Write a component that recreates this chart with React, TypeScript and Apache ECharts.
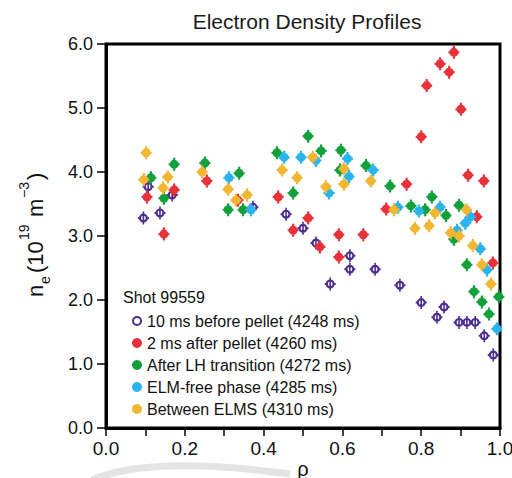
import React, { useEffect, useRef } from "react";
import * as echarts from "echarts";

const seriesNames = [
  "10 ms before pellet (4248 ms)",
  "2 ms after pellet (4260 ms)",
  "After LH transition (4272 ms)",
  "ELM-free phase (4285 ms)",
  "Between ELMS (4310 ms)",
];

const beforePellet: [number, number][] = [
  [0.095, 3.28], [0.137, 3.36], [0.107, 3.77], [0.168, 3.64], [0.373, 3.45],
  [0.457, 3.34], [0.5, 3.12], [0.533, 2.89], [0.619, 2.69], [0.619, 2.48],
  [0.569, 2.25], [0.683, 2.48], [0.746, 2.23], [0.8, 1.96], [0.858, 1.89],
  [0.84, 1.73], [0.896, 1.65], [0.916, 1.65], [0.937, 1.65], [0.96, 1.44],
  [0.983, 1.14],
];

const afterPellet: [number, number][] = [
  [0.104, 3.61], [0.147, 3.03], [0.173, 3.72], [0.256, 3.86], [0.335, 3.56],
  [0.437, 3.61], [0.475, 3.09], [0.513, 3.28], [0.543, 2.83], [0.591, 3.02],
  [0.591, 2.67], [0.653, 3.02], [0.711, 3.42], [0.763, 3.81], [0.8, 4.55],
  [0.814, 5.35], [0.848, 5.69], [0.871, 5.56], [0.883, 5.87], [0.901, 4.98],
  [0.919, 3.95], [0.959, 3.86], [0.941, 3.3], [0.982, 2.58],
];

const afterLH: [number, number][] = [
  [0.114, 3.91], [0.173, 4.12], [0.147, 3.59], [0.251, 4.14], [0.338, 3.98],
  [0.31, 3.41], [0.348, 3.41], [0.434, 4.3], [0.475, 3.67], [0.513, 4.56],
  [0.546, 4.33], [0.596, 4.34], [0.594, 4.03], [0.66, 4.1], [0.721, 3.78],
  [0.774, 3.47], [0.81, 3.41], [0.827, 3.61], [0.863, 3.32], [0.896, 3.48],
  [0.883, 2.95], [0.916, 2.55], [0.934, 2.13], [0.954, 1.97], [0.972, 1.78],
  [0.997, 2.05],
];

const elmFree: [number, number][] = [
  [0.312, 3.91], [0.368, 3.41], [0.452, 4.23], [0.495, 4.23], [0.533, 4.18],
  [0.566, 3.67], [0.613, 4.21], [0.617, 3.93], [0.678, 4.03], [0.741, 3.45],
  [0.794, 3.39], [0.848, 3.45], [0.891, 3.09], [0.912, 3.2], [0.925, 3.3],
  [0.95, 2.8], [0.967, 2.47], [0.992, 1.55],
];

const betweenELMs: [number, number][] = [
  [0.102, 4.3], [0.096, 3.88], [0.145, 3.75], [0.157, 3.92], [0.244, 4.0],
  [0.31, 3.73], [0.33, 3.56], [0.358, 3.64], [0.447, 4.03], [0.485, 3.91],
  [0.525, 4.23], [0.558, 3.77], [0.604, 4.05], [0.604, 3.81], [0.672, 3.86],
  [0.731, 3.41], [0.784, 3.12], [0.82, 3.16], [0.835, 3.36], [0.915, 3.41],
  [0.875, 3.05], [0.896, 3.0], [0.931, 2.85], [0.954, 2.55], [0.977, 2.25],
];

const colors = ["#4a2d8f", "#e8323a", "#12a03c", "#2ab4ee", "#f2b630"];

const FONT = "'Liberation Sans', Arial, Helvetica, sans-serif";

const filledSymbol =
  "path://M4.5,0A4.5,4.5 0 1,1 -4.5,0A4.5,4.5 0 1,1 4.5,0Z M-1.1,-6.5H1.1V6.5H-1.1Z M-5.5,-1.1H5.5V1.1H-5.5Z";
const openSymbol =
  "path://M4.5,0A4.5,4.5 0 1,1 -4.5,0A4.5,4.5 0 1,1 4.5,0Z M2.4,0A2.4,2.4 0 1,0 -2.4,0A2.4,2.4 0 1,0 2.4,0Z M-0.8,-6.5H0.8V6.5H-0.8Z M-5.5,-1H-3.5V1H-5.5Z M3.5,-1H5.5V1H3.5Z";
const ringIcon =
  "path://M4,0A4,4 0 1,1 -4,0A4,4 0 1,1 4,0Z M2.4,0A2.4,2.4 0 1,0 -2.4,0A2.4,2.4 0 1,0 2.4,0Z";

export default function App() {
  const ref = useRef<HTMLDivElement>(null);
  useEffect(() => {
    if (!ref.current) return;
    const chart = echarts.init(ref.current, undefined, { renderer: "svg" });
    const datasets = [beforePellet, afterPellet, afterLH, elmFree, betweenELMs];
    const txt = (text: string, lx: number, ly: number, fs: number) => ({
      type: "text",
      x: lx,
      y: ly,
      style: {
        text,
        fontSize: fs,
        fontFamily: FONT,
        fill: "#111",
        align: "left",
        verticalAlign: "middle",
        textAlign: "left",
        textVerticalAlign: "middle",
      },
    });
    chart.setOption({
      animation: false,
      title: {
        text: "Electron Density Profiles",
        left: 302,
        top: 6,
        textAlign: "center",
        textStyle: { fontSize: 21, fontWeight: "normal", color: "#1a1a1a", fontFamily: FONT },
      },
      grid: {
        left: 106,
        right: 12,
        top: 44,
        bottom: 50,
        show: true,
        borderColor: "#000",
        borderWidth: 3,
        containLabel: false,
        outerBoundsMode: "none",
      },
      legend: {
        orient: "vertical",
        left: 127,
        top: 308,
        itemWidth: 10,
        itemHeight: 10,
        itemGap: 6,
        textStyle: { fontSize: 16, color: "#111", lineHeight: 16, fontFamily: FONT },
        data: seriesNames.map((n, i) => ({ name: n, icon: i === 0 ? ringIcon : "circle" })),
      },
      xAxis: {
        type: "value",
        min: 0,
        max: 1,
        interval: 0.1,
        name: "ρ",
        nameLocation: "middle",
        nameGap: 31,
        nameMoveOverlap: false,
        nameTextStyle: { fontSize: 20, color: "#111", fontFamily: FONT },
        axisLine: { show: true, lineStyle: { color: "#000", width: 3 } },
        axisTick: { show: true, length: 8, lineStyle: { color: "#000", width: 1.5 } },
        axisLabel: {
          fontSize: 19,
          color: "#111",
          margin: 11,
          fontFamily: FONT,
          formatter: (v: number) => (Math.round(v * 10) % 2 === 0 ? v.toFixed(1) : ""),
        },
        splitLine: { show: false },
      },
      yAxis: {
        type: "value",
        min: 0,
        max: 6,
        interval: 1,
        axisLine: { show: true, lineStyle: { color: "#000", width: 3 } },
        axisTick: { show: true, length: 9, lineStyle: { color: "#000", width: 1.5 } },
        axisLabel: {
          fontSize: 18,
          color: "#111",
          margin: 13,
          fontFamily: FONT,
          formatter: (v: number) => v.toFixed(1),
        },
        splitLine: { show: false },
      },
      graphic: [
        {
          type: "text",
          left: 123,
          top: 289,
          style: { text: "Shot 99559", fontSize: 16, fontFamily: FONT, fill: "#111" },
        },
        {
          type: "group",
          x: 35,
          y: 297,
          rotation: Math.PI / 2,
          children: [
            txt("n", 0, 0, 22),
            txt("e", 13, 10, 14),
            txt("(10", 24, 0, 22),
            txt("19", 57, -11, 14),
            txt("m", 80, 0, 22),
            txt("−3", 99, -11, 14),
            txt(")", 117, 0, 22),
          ],
        },
        {
          type: "bezierCurve",
          shape: { x1: 92, y1: 480, cpx1: 150, cpy1: 455, x2: 290, y2: 474 },
          style: { stroke: "#e4e4e4", lineWidth: 7, fill: null },
          z: -1,
        },
      ],
      series: datasets.map((d, i) => ({
        name: seriesNames[i],
        type: "scatter",
        data: d,
        symbol: i === 0 ? openSymbol : filledSymbol,
        symbolSize: [11, 13],
        itemStyle: { color: colors[i], opacity: 1 },
        z: 2 + i,
      })),
    });
    return () => chart.dispose();
  }, []);
  return (
    <div
      ref={ref}
      style={{ position: "absolute", left: 0, top: 0, width: 512, height: 478 }}
    />
  );
}
